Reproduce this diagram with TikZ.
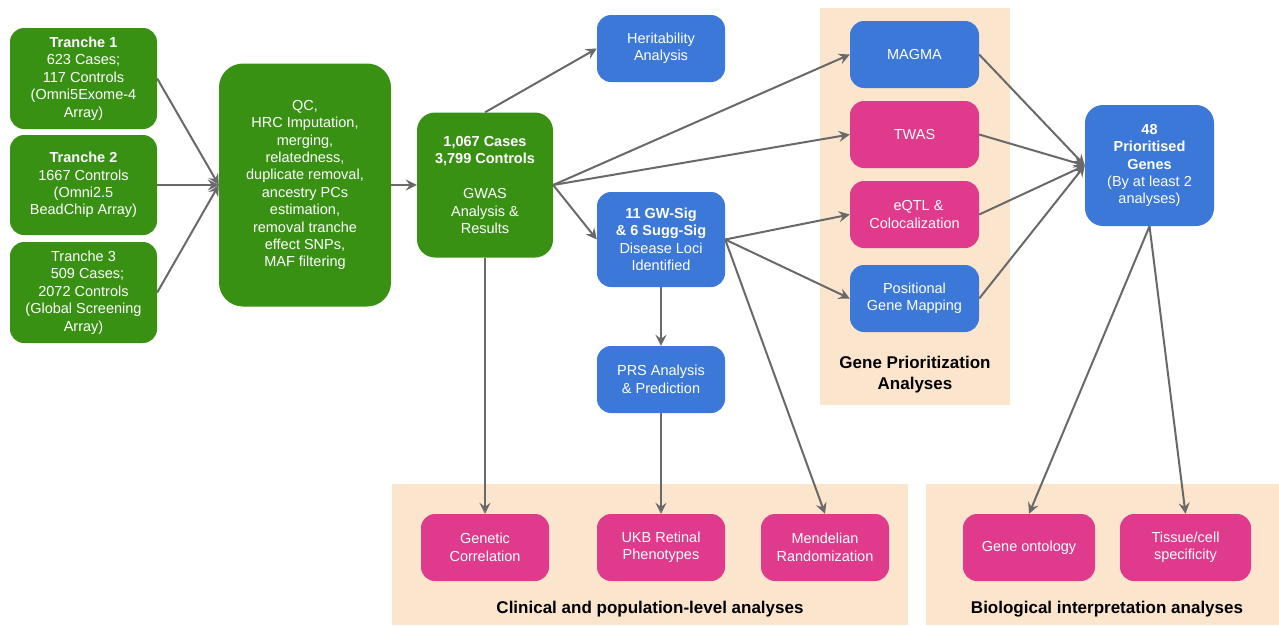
\documentclass[tikz,border=0pt]{standalone}
\usepackage{fontspec}
\setmainfont{Liberation Sans}
\usetikzlibrary{arrows.meta}
\definecolor{cgreen}{RGB}{57,145,20}
\definecolor{cblue}{RGB}{60,120,216}
\definecolor{cpink}{RGB}{224,58,140}
\definecolor{cpeach}{RGB}{252,229,205}
\definecolor{carrow}{RGB}{105,105,105}
\tikzset{
  box/.style={rounded corners=14pt, text=white, align=center, inner sep=2pt,
    font=\fontsize{14.5}{17.4}\selectfont},
  gbox/.style={box, fill=cgreen},
  bbox/.style={box, fill=cblue},
  pbox/.style={box, fill=cpink},
  panel/.style={fill=cpeach, draw=none},
  plabel/.style={align=center, font=\bfseries\fontsize{17}{21}\selectfont, text=black},
  arr/.style={draw=carrow, line width=2pt, -{Stealth[length=11pt,width=11pt,inset=4pt]}},
}
\begin{document}
\begin{tikzpicture}[x=1pt,y=-1pt]
\path[fill=white] (0,0) rectangle (1279,625);
\useasboundingbox (0,0) rectangle (1279,625);
% panels
\path[panel] (820,8) rectangle (1010,405);
\path[panel] (392,484) rectangle (908,625);
\path[panel] (926,484) rectangle (1279,625);
\node[plabel] (lgp) at (915,375) {Gene Prioritization\\Analyses};
\node[plabel] (lcl) at (650,609) {Clinical and population-level analyses};
\node[plabel] (lbi) at (1107,609) {Biological interpretation analyses};
% left column
\node[gbox, minimum width=147pt, minimum height=101pt] (t1) at (83.5,78.5)
  {\textbf{Tranche 1}\\623 Cases;\\117 Controls\\(Omni5Exome-4\\Array)};
\node[gbox, minimum width=147pt, minimum height=100pt] (t2) at (83.5,185)
  {\textbf{Tranche 2}\\1667 Controls\\(Omni2.5\\BeadChip Array)};
\node[gbox, minimum width=147pt, minimum height=101pt] (t3) at (83.5,292.5)
  {Tranche 3\\\hspace*{8pt}509 Cases;\\2072 Controls\\(Global Screening\\Array)};
\node[gbox, rounded corners=24pt, minimum width=172pt, minimum height=243pt] (qc) at (305,185)
  {QC,\\HRC Imputation,\\merging,\\relatedness,\\duplicate removal,\\ancestry PCs\\estimation,\\removal tranche\\effect SNPs,\\MAF filtering};
\node[gbox, rounded corners=18pt, minimum width=136pt, minimum height=145pt] (gwas) at (485,185)
  {\textbf{1,067 Cases}\\\textbf{3,799 Controls}\\[17.4pt]GWAS\\Analysis \&\\Results};
% middle column
\node[bbox, minimum width=128pt, minimum height=67pt] (her) at (661,48.5)
  {Heritability\\Analysis};
\node[bbox, minimum width=128pt, minimum height=95pt] (gws) at (661,239.5)
  {\textbf{11 GW-Sig}\\\textbf{\& 6 Sugg-Sig}\\Disease Loci\\Identified};
\node[bbox, minimum width=128pt, minimum height=67pt] (prs) at (661,379.5)
  {PRS Analysis\\\& Prediction};
% gene prioritization
\node[bbox, minimum width=129pt, minimum height=67pt] (magma) at (914.5,54.5) {MAGMA};
\node[pbox, minimum width=129pt, minimum height=67pt] (twas) at (914.5,134.5) {TWAS};
\node[pbox, minimum width=129pt, minimum height=67pt] (eqtl) at (914.5,214.5) {\hspace*{8pt}eQTL \&\\Colocalization};
\node[bbox, minimum width=129pt, minimum height=67pt] (pos) at (914.5,298.5) {Positional\\Gene Mapping};
\node[bbox, rounded corners=18pt, minimum width=129pt, minimum height=121pt] (p48) at (1149.5,165.5)
  {\textbf{48}\\\textbf{Prioritised}\\\textbf{Genes}\\(By at least 2\\analyses)};
% bottom
\node[pbox, minimum width=128pt, minimum height=67pt] (gc) at (485,547.5) {Genetic\\Correlation};
\node[pbox, minimum width=128pt, minimum height=67pt] (ukb) at (661,547.5) {UKB Retinal\\Phenotypes};
\node[pbox, minimum width=128pt, minimum height=67pt] (mr) at (825,547.5) {Mendelian\\Randomization};
\node[pbox, minimum width=132pt, minimum height=67pt] (go) at (1029,547.5) {Gene ontology};
\node[pbox, minimum width=131pt, minimum height=67pt] (ts) at (1185.5,547.5) {Tissue/cell\\specificity};
% arrows
\draw[arr] (t1.east) -- (qc.west);
\draw[arr] (t2.east) -- (qc.west);
\draw[arr] (t3.east) -- (qc.west);
\draw[arr] (qc.east) -- (gwas.west);
\draw[arr] (gwas.north) -- (her.west);
\draw[arr] (gwas.east) -- (magma.west);
\draw[arr] (gwas.east) -- (twas.west);
\draw[arr] (gwas.east) -- (gws.west);
\draw[arr] (gwas.south) -- (gc.north);
\draw[arr] (gws.south) -- (prs.north);
\draw[arr] (prs.south) -- (ukb.north);
\draw[arr] (gws.east) -- (eqtl.west);
\draw[arr] (gws.east) -- (pos.west);
\draw[arr] (gws.east) -- (mr.north);
\draw[arr] (magma.east) -- (p48.west);
\draw[arr] (twas.east) -- (p48.west);
\draw[arr] (eqtl.east) -- (p48.west);
\draw[arr] (pos.east) -- (p48.west);
\draw[arr] (p48.south) -- (go.north);
\draw[arr] (p48.south) -- (ts.north);
\end{tikzpicture}
\end{document}
